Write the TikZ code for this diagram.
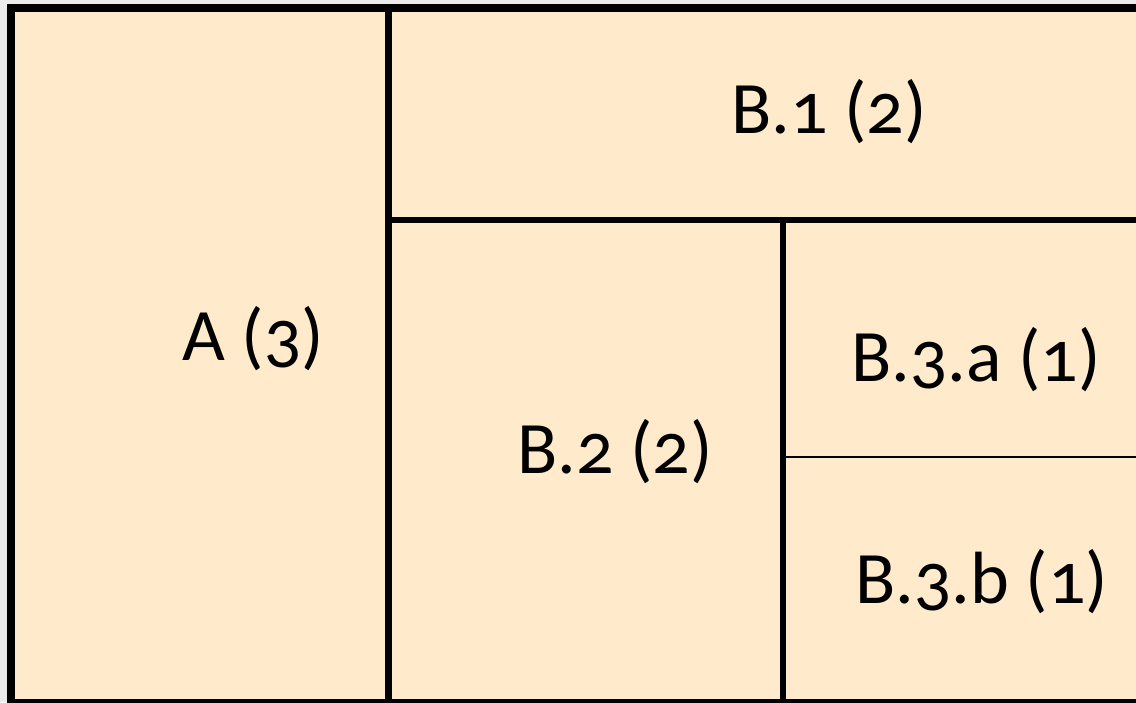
\documentclass[tikz,border=0pt]{standalone}
\usepackage{fontspec}
\setmainfont{Carlito}[Numbers=OldStyle]
\definecolor{cellfill}{HTML}{FFEACC}
\definecolor{bggray}{HTML}{EBEBEB}
\tikzset{
  lbl/.style={anchor=base west, inner sep=0pt, font=\fontsize{74}{82}\selectfont, text=black},
  thick line/.style={line width=7pt, draw=black},
  mid line/.style={line width=6pt, draw=black},
  thin line/.style={line width=2pt, draw=black}
}
\begin{document}
\begin{tikzpicture}[x=1pt,y=-1pt]
\useasboundingbox (0,0) rectangle (1136,702);
\fill[bggray] (0,0) rectangle (1136,702);
\fill[cellfill] (11,8) rectangle (1150,710);
% outer frame
\draw[line width=8pt] (1150,8) -- (11,8) -- (11,703) -- (1150,703);
% dividers
\draw[thick line] (388.5,8) -- (388.5,703);
\draw[mid line] (388.5,219.5) -- (1150,219.5);
\draw[mid line] (782.5,219.5) -- (782.5,703);
\draw[thin line] (782.5,457) -- (1150,457);
% labels
\node[lbl] (a) at (182,360) {A (3)};
\node[lbl] (b1) at (731,133) {B.1 (2)};
\node[lbl] (b2) at (517,473) {B.2 (2)};
\node[lbl] (b3a) at (851,381) {B.3.a (1)};
\node[lbl] (b3b) at (855,603) {B.3.b (1)};
\end{tikzpicture}
\end{document}
